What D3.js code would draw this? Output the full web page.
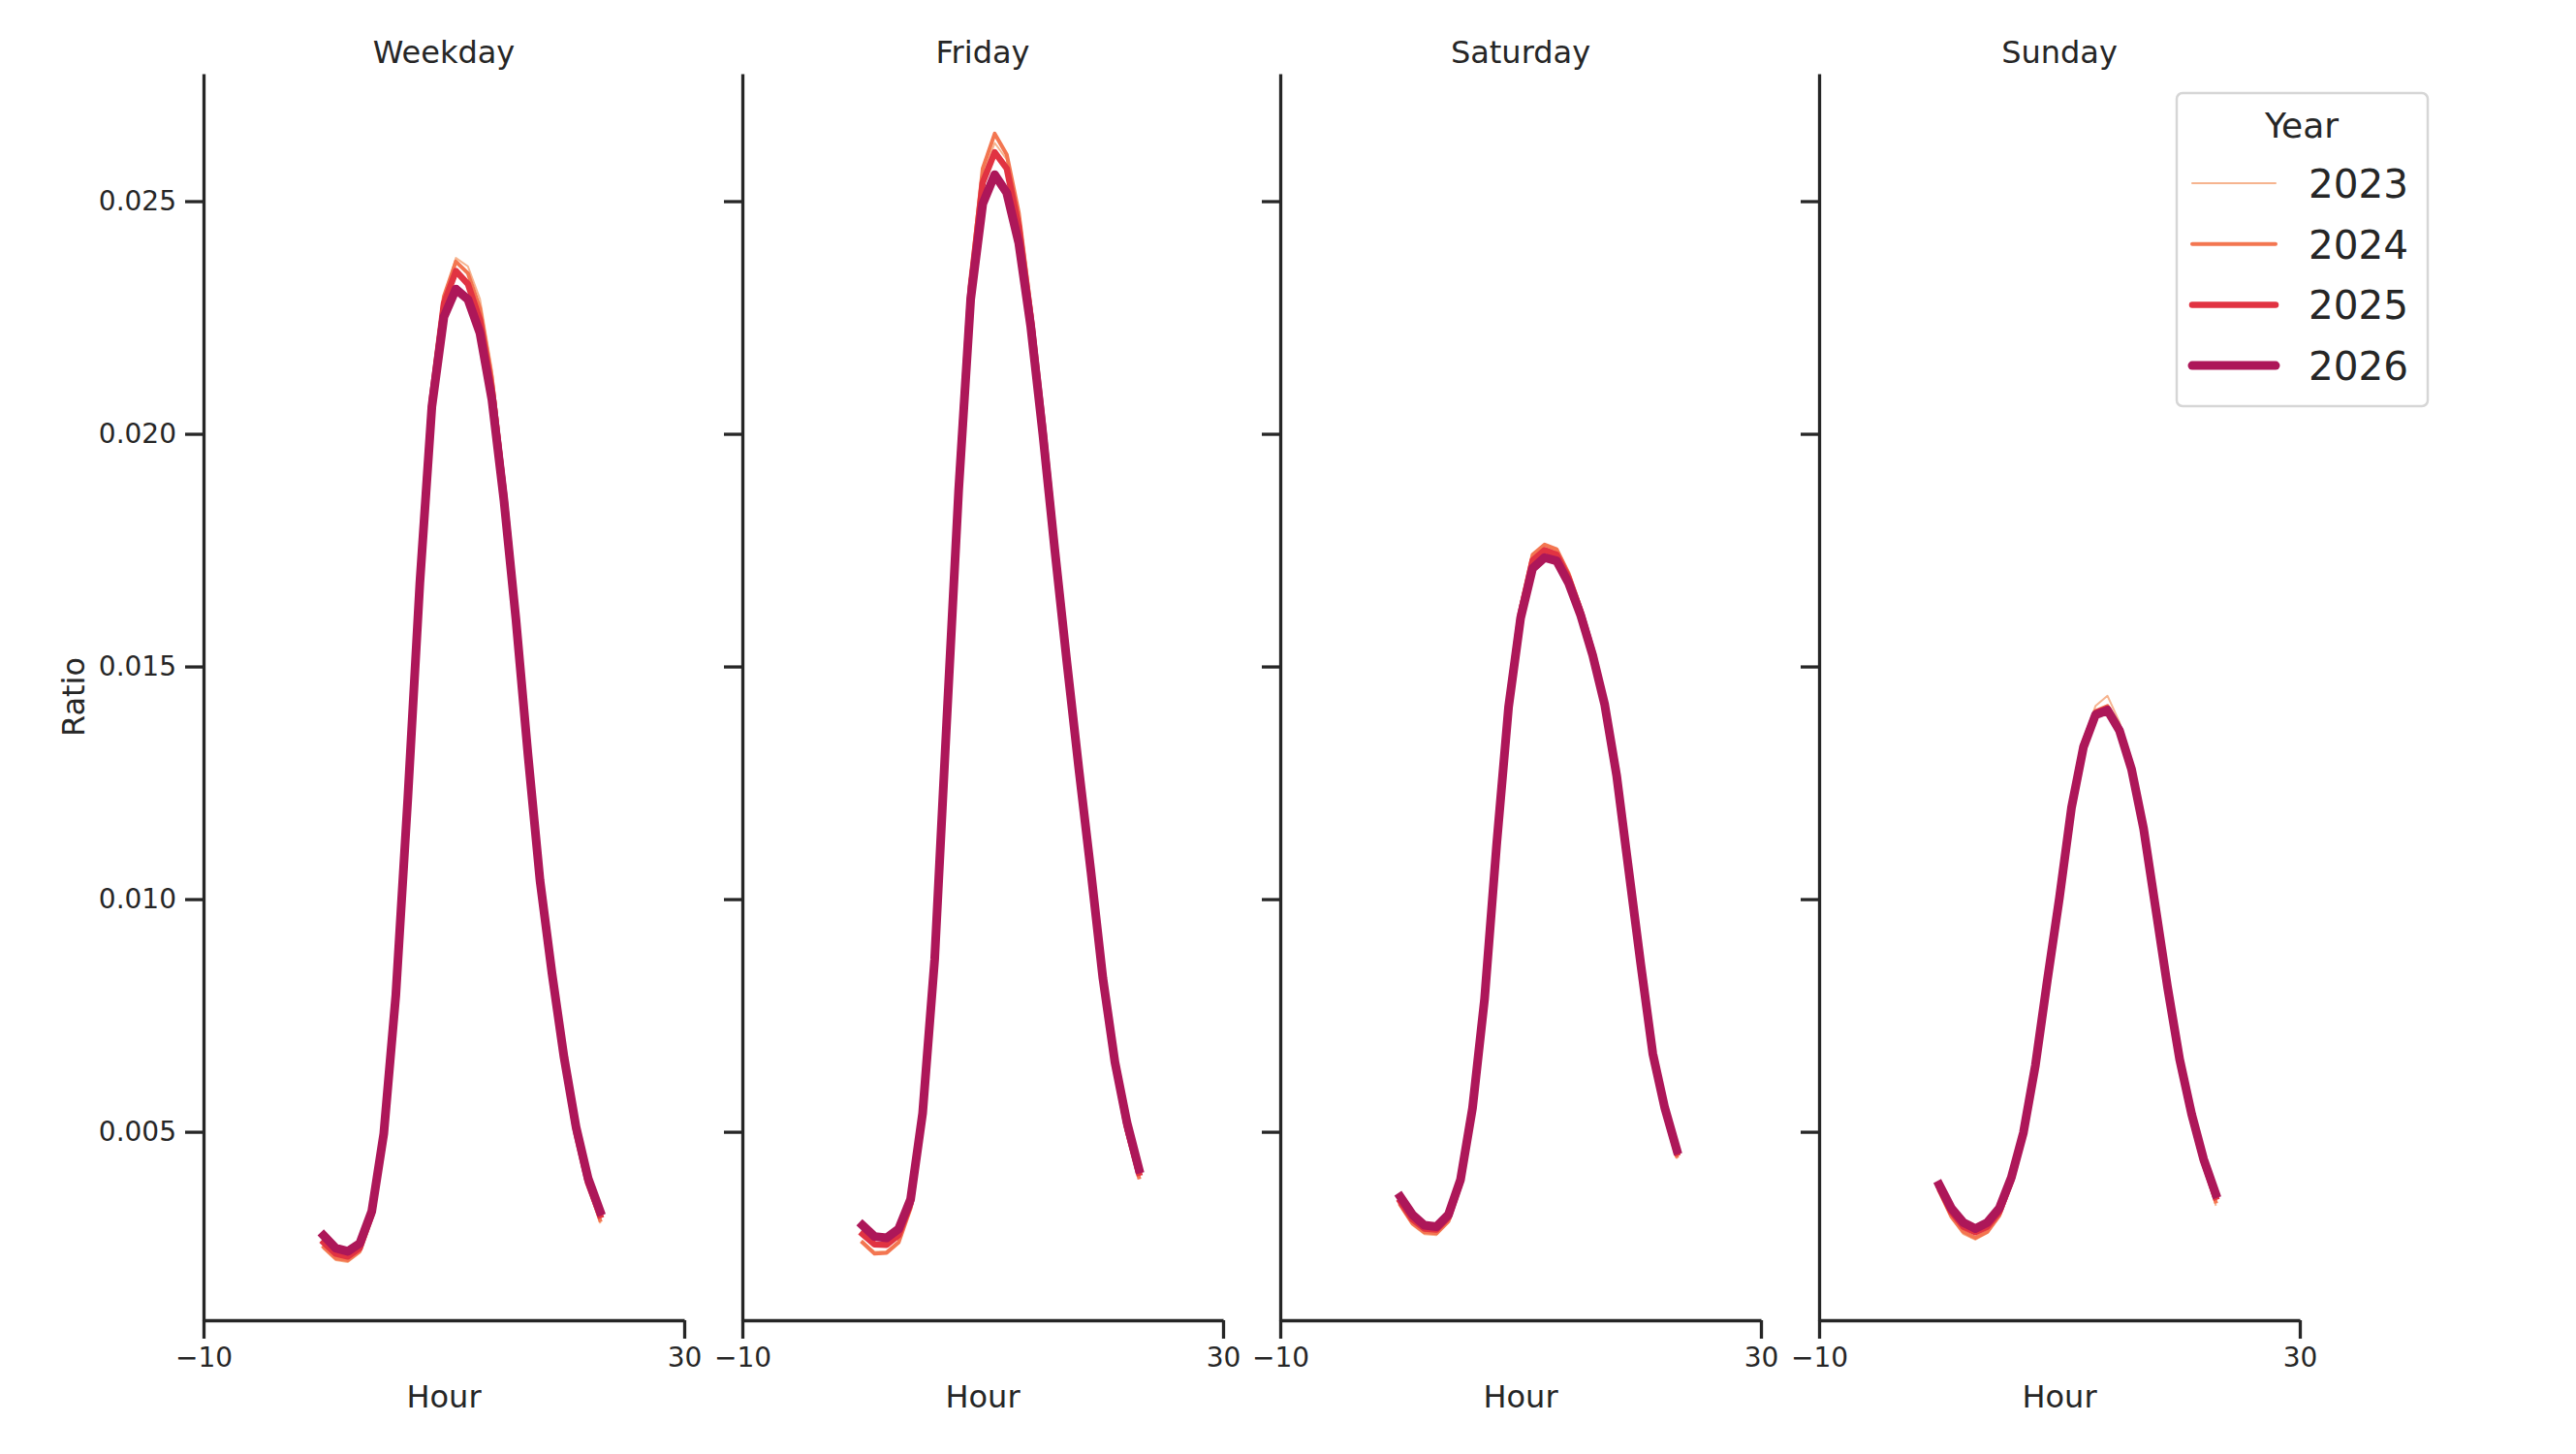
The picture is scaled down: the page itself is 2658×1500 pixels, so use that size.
<!DOCTYPE html>
<html>
<head>
<meta charset="utf-8">
<script src="https://cdn.jsdelivr.net/npm/d3@7"></script>
<style>
  body { margin: 0; background: #fff; }
  text { font-family: "DejaVu Sans", sans-serif; fill: #262626; }
</style>
</head>
<body>
<script>
// hour-of-day share per day type, one array per year

const hours = d3.range(0, 24);
const years = [2023, 2024, 2025, 2026];
const dayTypes = ['Weekday', 'Friday', 'Saturday', 'Sunday'];
const xTicks = [-10, 30];
const yTicks = [0.005, 0.010, 0.015, 0.020, 0.025];

const weekday2023 = [0.00248,0.00224,0.00220,0.00240,0.00316,0.00488,0.00795,0.01228,0.01698,0.02085,0.02290,0.02378,0.02360,0.02290,0.02138,0.01905,0.01630,0.01325,0.01040,0.00830,0.00650,0.00490,0.00380,0.00305];
const weekday2024 = [0.00252,0.00228,0.00224,0.00243,0.00318,0.00490,0.00797,0.01230,0.01700,0.02088,0.02295,0.02370,0.02345,0.02270,0.02120,0.01892,0.01622,0.01320,0.01040,0.00840,0.00650,0.00500,0.00390,0.00310];
const weekday2025 = [0.00262,0.00238,0.00232,0.00250,0.00323,0.00493,0.00795,0.01225,0.01692,0.02075,0.02280,0.02350,0.02322,0.02245,0.02095,0.01873,0.01608,0.01312,0.01040,0.00840,0.00660,0.00500,0.00390,0.00321];
const weekday2026 = [0.00277,0.00250,0.00243,0.00260,0.00329,0.00496,0.00793,0.01217,0.01679,0.02058,0.02251,0.02311,0.02289,0.02217,0.02073,0.01857,0.01600,0.01310,0.01040,0.00840,0.00660,0.00510,0.00400,0.00329];

const friday2023 = [0.00265,0.00242,0.00243,0.00265,0.00338,0.00534,0.00872,0.01392,0.01900,0.02322,0.02555,0.02625,0.02590,0.02468,0.02260,0.02020,0.01770,0.01520,0.01280,0.01050,0.00820,0.00640,0.00510,0.00405];
const friday2024 = [0.00262,0.00238,0.00240,0.00262,0.00336,0.00533,0.00874,0.01395,0.01905,0.02330,0.02570,0.02645,0.02600,0.02475,0.02270,0.02030,0.01770,0.01520,0.01280,0.01050,0.00820,0.00640,0.00500,0.00402];
const friday2025 = [0.00280,0.00258,0.00257,0.00278,0.00346,0.00537,0.00872,0.01388,0.01895,0.02315,0.02540,0.02605,0.02570,0.02445,0.02250,0.02020,0.01760,0.01520,0.01280,0.01060,0.00830,0.00650,0.00510,0.00412];
const friday2026 = [0.00299,0.00275,0.00272,0.00291,0.00355,0.00540,0.00870,0.01380,0.01880,0.02290,0.02494,0.02557,0.02518,0.02410,0.02230,0.02000,0.01750,0.01510,0.01280,0.01060,0.00830,0.00650,0.00520,0.00420];

const saturday2023 = [0.00340,0.00300,0.00280,0.00278,0.00305,0.00384,0.00544,0.00786,0.01118,0.01422,0.01620,0.01735,0.01755,0.01748,0.01698,0.01622,0.01532,0.01421,0.01265,0.01058,0.00855,0.00662,0.00544,0.00444];
const saturday2024 = [0.00342,0.00303,0.00284,0.00282,0.00308,0.00386,0.00545,0.00787,0.01120,0.01425,0.01625,0.01740,0.01762,0.01752,0.01700,0.01625,0.01535,0.01423,0.01266,0.01058,0.00855,0.00662,0.00545,0.00448];
const saturday2025 = [0.00350,0.00312,0.00292,0.00290,0.00316,0.00392,0.00548,0.00786,0.01118,0.01420,0.01615,0.01728,0.01750,0.01740,0.01690,0.01618,0.01530,0.01420,0.01265,0.01060,0.00857,0.00665,0.00548,0.00455];
const saturday2026 = [0.00360,0.00322,0.00299,0.00296,0.00322,0.00397,0.00551,0.00785,0.01115,0.01413,0.01604,0.01711,0.01734,0.01727,0.01679,0.01610,0.01524,0.01418,0.01264,0.01062,0.00860,0.00668,0.00551,0.00461];

const sunday2023 = [0.00370,0.00315,0.00280,0.00268,0.00282,0.00318,0.00389,0.00491,0.00640,0.00830,0.01010,0.01205,0.01340,0.01415,0.01437,0.01380,0.01288,0.01155,0.00980,0.00805,0.00646,0.00526,0.00428,0.00343];
const sunday2024 = [0.00372,0.00318,0.00285,0.00272,0.00285,0.00320,0.00390,0.00492,0.00641,0.00829,0.01008,0.01203,0.01335,0.01404,0.01415,0.01368,0.01282,0.01152,0.00979,0.00806,0.00648,0.00528,0.00430,0.00350];
const sunday2025 = [0.00380,0.00328,0.00296,0.00284,0.00296,0.00328,0.00396,0.00495,0.00642,0.00828,0.01006,0.01200,0.01332,0.01400,0.01410,0.01365,0.01280,0.01152,0.00980,0.00808,0.00652,0.00533,0.00436,0.00360];
const sunday2026 = [0.00386,0.00336,0.00305,0.00292,0.00305,0.00336,0.00402,0.00498,0.00643,0.00827,0.01003,0.01196,0.01327,0.01396,0.01406,0.01362,0.01279,0.01152,0.00981,0.00810,0.00656,0.00538,0.00441,0.00367];

const panelSeries = {
    Weekday: [weekday2023, weekday2024, weekday2025, weekday2026],
    Friday: [friday2023, friday2024, friday2025, friday2026],
    Saturday: [saturday2023, saturday2024, saturday2025, saturday2026],
    Sunday: [sunday2023, sunday2024, sunday2025, sunday2026]
};

// look
const yearColor = d3.scaleOrdinal().domain(years).range(['#f6b48f', '#f37651', '#e13342', '#ad1759']);
const yearWidth = d3.scaleOrdinal().domain(years).range([2, 4, 6.5, 9]);
const ink = '#262626';

const W = 2658, H = 1500;
const panelLeft = [210, 766, 1321, 1877];
const panelW = 496;
const plotTop = 76, plotBottom = 1362;

const svg = d3.select('body').append('svg')
    .attr('width', W)
    .attr('height', H);

const x = d3.scaleLinear().domain([-10, 30]).range([0, panelW]);
const y = d3.scaleLinear().domain([0.00095, 0.02774]).range([plotBottom, plotTop]);

const line = d3.line()
    .x((d, i) => x(hours[i]))
    .y(d => y(d));

dayTypes.forEach((day, p) => {
    const g = svg.append('g').attr('transform', `translate(${panelLeft[p]},0)`);

    // lines, lightest year first
    panelSeries[day].forEach((vals, k) => {
        g.append('path')
            .datum(vals)
            .attr('fill', 'none')
            .attr('stroke', yearColor(years[k]))
            .attr('stroke-width', yearWidth(years[k]))
            .attr('stroke-linejoin', 'round')
            .attr('stroke-linecap', 'square')
            .attr('d', line);
    });

    const yAxis = g.append('g')
        .call(d3.axisLeft(y).tickValues(yTicks).tickSize(19).tickSizeOuter(0).tickPadding(9)
            .tickFormat(p === 0 ? d3.format('.3f') : () => ''));

    const xAxis = g.append('g')
        .attr('transform', `translate(0,${plotBottom})`)
        .call(d3.axisBottom(x).tickValues(xTicks).tickSize(19).tickSizeOuter(0).tickPadding(9)
            .tickFormat(d3.format('d')));

    [yAxis, xAxis].forEach(a => {
        a.selectAll('path, line').attr('stroke', ink).attr('stroke-width', 3.3);
        a.selectAll('text').attr('font-size', 28).attr('fill', ink)
            .style('font-family', '"DejaVu Sans", sans-serif');
    });

    g.append('text')
        .attr('x', panelW / 2)
        .attr('y', 65)
        .attr('text-anchor', 'middle')
        .attr('font-size', 32)
        .text(day);

    g.append('text')
        .attr('x', panelW / 2)
        .attr('y', 1452)
        .attr('text-anchor', 'middle')
        .attr('font-size', 32)
        .text('Hour');
});

svg.append('text')
    .attr('transform', `translate(87,${(plotTop + plotBottom) / 2}) rotate(-90)`)
    .attr('text-anchor', 'middle')
    .attr('font-size', 32)
    .text('Ratio');

// legend
const legend = svg.append('g').attr('transform', 'translate(2246,96)');

legend.append('rect')
    .attr('width', 259)
    .attr('height', 323)
    .attr('rx', 6)
    .attr('fill', '#fff')
    .attr('fill-opacity', 0.8)
    .attr('stroke', '#d6d6d6')
    .attr('stroke-width', 2.5);

legend.append('text')
    .attr('x', 129)
    .attr('y', 46)
    .attr('text-anchor', 'middle')
    .attr('font-size', 36)
    .text('Year');

const item = legend.selectAll('g.item')
    .data(years)
    .enter().append('g')
    .attr('class', 'item')
    .attr('transform', (d, i) => `translate(0,${93 + i * 62.7})`);

item.append('line')
    .attr('x1', 16).attr('x2', 102)
    .attr('stroke', d => yearColor(d))
    .attr('stroke-width', d => yearWidth(d))
    .attr('stroke-linecap', 'round');

item.append('text')
    .attr('x', 136)
    .attr('y', 15)
    .attr('font-size', 40.5)
    .text(d => d);
</script>
</body>
</html>
